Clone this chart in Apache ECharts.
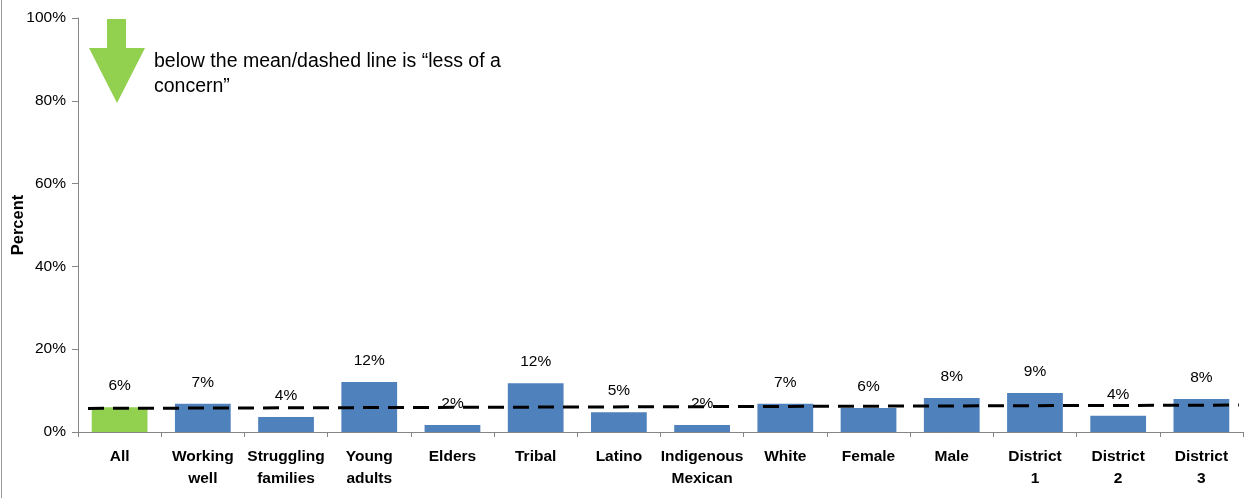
<!DOCTYPE html>
<html>
<head>
<meta charset="utf-8">
<script src="https://cdn.jsdelivr.net/npm/echarts@6/dist/echarts.min.js"></script>
<style>html,body{margin:0;padding:0;background:#fff}#c{width:1246px;height:498px}</style>
</head>
<body>
<div id="c"></div>
<script>
const categories = ['All','Working\nwell','Struggling\nfamilies','Young\nadults','Elders','Tribal','Latino','Indigenous\nMexican','White','Female','Male','District\n1','District\n2','District\n3'];
const values = [6.0, 6.8, 3.6, 12.1, 1.7, 11.8, 4.8, 1.7, 6.8, 5.8, 8.2, 9.4, 3.9, 8.0];
const trendLine = [[0.12, 5.7], [13.95, 6.5]];
const yTicks = [0, 20, 40, 60, 80, 100];
const note = ['below the mean/dashed line is \u201cless of a', 'concern\u201d'];

const FONT = 'Liberation Sans';
const chart = echarts.init(document.getElementById('c'), null, {renderer: 'canvas'});
chart.setOption({
  animation: false,
  backgroundColor: '#fff',
  textStyle: {fontFamily: FONT},
  grid: {left: 78, right: 3, top: 18, bottom: 66, containLabel: false, outerBoundsMode: 'none'},
  xAxis: [{
    type: 'category',
    data: categories,
    boundaryGap: true,
    axisLine: {lineStyle: {color: '#868686', width: 1}},
    axisTick: {show: true, length: 5, lineStyle: {color: '#868686'}},
    axisLabel: {interval: 0, color: '#000', fontWeight: 'bold', fontSize: 15.5, lineHeight: 22, margin: 14, fontFamily: FONT},
    splitLine: {show: false}
  }, {
    type: 'value', min: 0, max: 14, show: false, position: 'bottom'
  }],
  yAxis: {
    type: 'value', min: yTicks[0], max: yTicks[yTicks.length-1], interval: 20,
    name: 'Percent', nameLocation: 'middle', nameGap: 51, nameRotate: 90, nameMoveOverlap: false,
    nameTextStyle: {fontWeight: 'bold', fontSize: 16.5, color: '#000', fontFamily: FONT},
    axisLine: {show: true, lineStyle: {color: '#868686'}},
    axisTick: {show: true, length: 6, lineStyle: {color: '#868686'}},
    axisLabel: {formatter: '{value}%', color: '#000', fontSize: 15.5, margin: 12, fontFamily: FONT},
    splitLine: {show: false}
  },
  series: [{
    type: 'bar',
    xAxisIndex: 0,
    z: 2,
    barCategoryGap: '33%',
    data: values.map((v, i) => ({value: v, itemStyle: {color: i === 0 ? '#92D050' : '#4F81BD'}})),
    label: {show: true, position: 'top', distance: 13, color: '#000', fontSize: 15.5, fontFamily: FONT,
      formatter: p => Math.round(p.value) + '%'}
  }, {
    type: 'line',
    xAxisIndex: 1,
    z: 5,
    data: trendLine,
    symbol: 'none',
    lineStyle: {color: '#000', width: 3, type: [16, 9]}
  }],
  graphic: [
    {type: 'line', shape: {x1: 1.5, y1: 0, x2: 1.5, y2: 498}, style: {stroke: '#9a9a9a', lineWidth: 1}},
    {type: 'polygon', shape: {points: [[107,19],[126,19],[126,48],[145,48],[117,103],[89,48],[107,48]]}, style: {fill: '#92D050'}},
    {type: 'text', left: 154, top: 49, style: {text: note.join('\n'), font: '19.5px "' + FONT + '"', fill: '#000', lineHeight: 25}}
  ]
});
</script>
</body>
</html>
